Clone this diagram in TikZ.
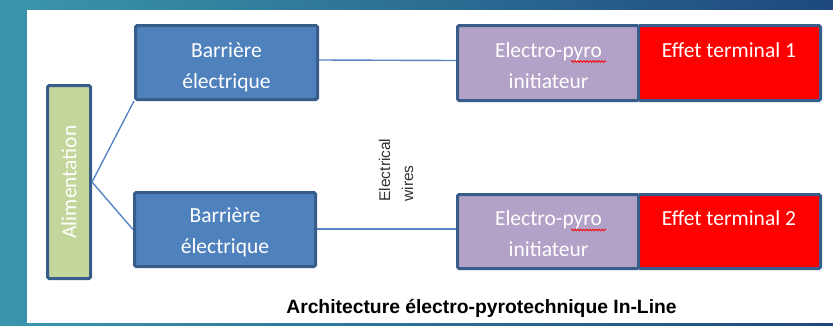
\documentclass[tikz,border=0pt]{standalone}
\usepackage{fontspec}
\setmainfont{Carlito}
\newfontfamily\arialf{Liberation Sans}
\usetikzlibrary{decorations.pathmorphing}
\definecolor{bgL}{RGB}{58,150,172}
\definecolor{bgR}{RGB}{30,72,125}
\definecolor{bord}{RGB}{56,93,138}
\definecolor{blu}{RGB}{79,129,189}
\definecolor{grn}{RGB}{195,214,155}
\definecolor{pur}{RGB}{179,162,199}
\definecolor{lin}{RGB}{88,135,198}
\tikzset{
  box/.style={draw=bord, line width=3pt, rounded corners=1.5pt, inner sep=0pt},
  wtxt/.style={text=white, font=\fontsize{21.5}{26}\selectfont, inner sep=0pt, anchor=base},
  wire/.style={draw=lin, line width=1.4pt},
  squig/.style={draw=red, line width=0.8pt, decorate, decoration={snake, amplitude=0.8pt, segment length=3pt}}
}
\begin{document}
\begin{tikzpicture}[x=1pt,y=-1pt]
\useasboundingbox (0,0) rectangle (833,325);
\shade[left color=bgL, right color=bgR] (0,0) rectangle (833,325);
\fill[white] (27,10) rectangle (833,323);

% boxes
\node[box, fill=grn, minimum width=43pt, minimum height=193pt] (ali) at (69,182) {};
\node[box, fill=blu, minimum width=182pt, minimum height=74pt] (b1) at (226.5,62.5) {};
\node[box, fill=blu, minimum width=181pt, minimum height=74pt] (b2) at (225,229.5) {};
\node[box, fill=pur, minimum width=181pt, minimum height=75pt] (p1) at (548,63) {};
\node[box, fill=red, minimum width=182pt, minimum height=75pt] (e1) at (729.5,63) {};
\node[box, fill=pur, minimum width=181pt, minimum height=74pt] (p2) at (548,231.5) {};
\node[box, fill=red, minimum width=182pt, minimum height=74pt] (e2) at (729.5,231.5) {};

% texts
\node[text=white, font=\fontsize{21.5}{26}\selectfont, rotate=90, inner sep=0pt] (alit) at (ali.center) {Alimentation};
\node[wtxt] (b1a) at (226.5,57) {Barrière};
\node[wtxt] (b1b) at (226.5,88) {électrique};
\node[wtxt] (b2a) at (225,222) {Barrière};
\node[wtxt] (b2b) at (225,253.5) {électrique};
\node[wtxt] (p1a) at (548.5,57) {Electro-pyro};
\node[wtxt] (p1b) at (548.5,88) {initiateur};
\node[wtxt] (p2a) at (548.5,225.7) {Electro-pyro};
\node[wtxt] (p2b) at (548.5,256.3) {initiateur};
\node[wtxt] (e1t) at (729,57) {Effet terminal 1};
\node[wtxt] (e2t) at (729,225.7) {Effet terminal 2};

% spell-check squiggles
\path[squig] (571,61.5) -- (606,61.5);
\path[squig] (571,230) -- (606,230);

% connectors
\draw[wire] (ali.east) -- (b1.south west);
\draw[wire] (ali.east) -- (b2.west);
\draw[wire] ([yshift=2.5pt]b1.east) -- ([yshift=2.5pt]p1.west);
\draw[wire] ([yshift=0.5pt]b2.east) -- ([yshift=2.5pt]p2.west);

% labels
\node[rotate=90, align=left, font=\arialf\fontsize{15.5}{23}\selectfont, text=black!80, inner sep=0pt] (ew) at (396,170) {Electrical\\wires};
\node[font=\arialf\bfseries\fontsize{19.3}{22}\selectfont, anchor=base, inner sep=0pt] (title) at (481.5,313) {Architecture électro-pyrotechnique In-Line};
\end{tikzpicture}
\end{document}
